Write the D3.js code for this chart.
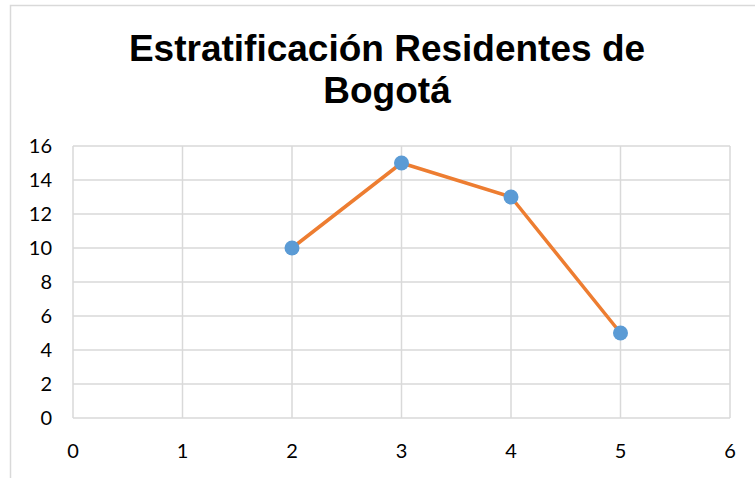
<!DOCTYPE html>
<html><head><meta charset="utf-8">
<script src="https://cdn.jsdelivr.net/npm/d3@7"></script>
<style>body{margin:0;background:#fff;}svg{display:block;}</style>
</head><body>
<script>
const xValues = [2, 3, 4, 5];
const yValues = [10, 15, 13, 5];
const xTicks = [0, 1, 2, 3, 4, 5, 6];
const yTicks = [0, 2, 4, 6, 8, 10, 12, 14, 16];
const titleLines = ["Estratificación Residentes de", "Bogotá"];

const W = 755, H = 478;
const svg = d3.select("body").append("svg").attr("width", W).attr("height", H);
svg.append("rect").attr("x", 10.5).attr("y", 5.5).attr("width", 800).attr("height", 600)
  .attr("fill", "#fff").attr("stroke", "#d9d9d9").attr("stroke-width", 1.5);

const x = d3.scaleLinear().domain([0, 6]).range([73, 730]);
const y = d3.scaleLinear().domain([0, 16]).range([418, 146]);

const g = svg.append("g");
g.selectAll(".vg").data(xTicks).join("line")
  .attr("x1", d => x(d)).attr("x2", d => x(d)).attr("y1", y(0)).attr("y2", y(16))
  .attr("stroke", "#d9d9d9").attr("stroke-width", 1.5);
g.selectAll(".hg").data(yTicks).join("line")
  .attr("y1", d => y(d)).attr("y2", d => y(d)).attr("x1", x(0)).attr("x2", x(6))
  .attr("stroke", "#d9d9d9").attr("stroke-width", 1.5);

const font = "Lato, 'Open Sans', sans-serif";
svg.selectAll(".yl").data(yTicks).join("text")
  .attr("x", 52).attr("y", d => y(d)).attr("dy", "0.36em").attr("text-anchor", "end")
  .attr("font-family", font).attr("font-size", 20).attr("fill", "#000").text(d => d);
svg.selectAll(".xl").data(xTicks).join("text")
  .attr("x", d => x(d)).attr("y", 458).attr("text-anchor", "middle")
  .attr("font-family", font).attr("font-size", 20).attr("fill", "#000").text(d => d);

const pts = xValues.map((v, i) => [v, yValues[i]]);
svg.append("path").datum(pts)
  .attr("d", d3.line().x(d => x(d[0])).y(d => y(d[1])))
  .attr("fill", "none").attr("stroke", "#ED7D31").attr("stroke-width", 3.5).attr("stroke-linejoin", "round");
svg.selectAll(".pt").data(pts).join("circle")
  .attr("cx", d => x(d[0])).attr("cy", d => y(d[1])).attr("r", 7.5).attr("fill", "#5B9BD5");

svg.selectAll(".title").data(titleLines).join("text")
  .attr("x", 387).attr("y", (d, i) => 61 + i * 42).attr("text-anchor", "middle")
  .attr("font-family", "'Liberation Sans', Arial, sans-serif").attr("font-weight", "bold")
  .attr("font-size", 37).attr("fill", "#000").text(d => d);
</script>
</body></html>
